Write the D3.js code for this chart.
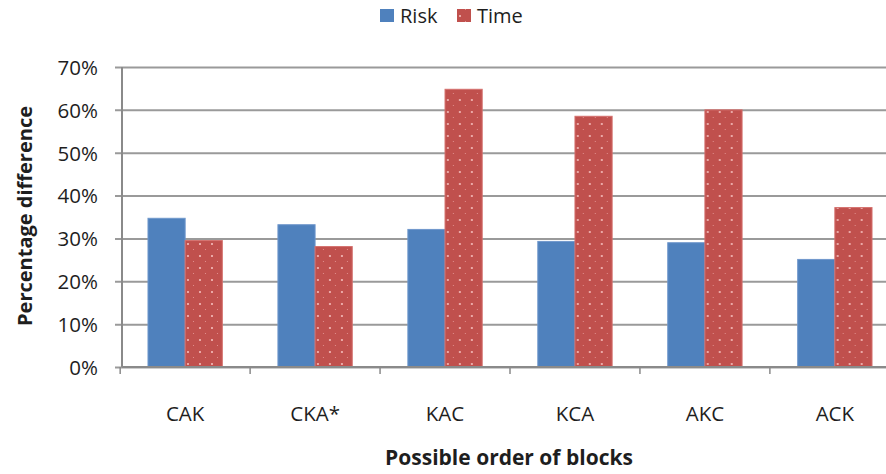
<!DOCTYPE html>
<html><head><meta charset="utf-8">
<script src="https://cdn.jsdelivr.net/npm/d3@7"></script>
<style>body{margin:0;background:#fff}svg{display:block}</style>
</head><body>
<script>
const categories = ["CAK","CKA*","KAC","KCA","AKC","ACK"];
const seriesNames = ["Risk","Time"];
const risk = [0.347,0.332,0.321,0.293,0.290,0.251];
const time = [0.295,0.281,0.648,0.585,0.600,0.372];
const yTicks = [0,0.1,0.2,0.3,0.4,0.5,0.6,0.7];

const W=886,H=474;
const plotL=122, plotR=898, plotT=67, plotB=367;
const svg=d3.select("body").append("svg").attr("width",W).attr("height",H);
const font="'Open Sans', sans-serif";
const txt="#1e1e1e";

const defs=svg.append("defs");
const pat=defs.append("pattern").attr("id","dots").attr("patternUnits","userSpaceOnUse")
  .attr("width",12).attr("height",12);
pat.append("rect").attr("width",12).attr("height",12).attr("fill","#c0504d");
pat.append("rect").attr("x",3).attr("y",3).attr("width",2).attr("height",2).attr("fill","#eaa8a6");
pat.append("rect").attr("x",9).attr("y",9).attr("width",1).attr("height",1).attr("fill","#e08e8c");

const x0=d3.scaleBand().domain(categories).range([plotL,plotR]).paddingInner(0.428).paddingOuter(0.2);
const x1=d3.scaleBand().domain(seriesNames).range([0,x0.bandwidth()]);
const y=d3.scaleLinear().domain([0,0.7]).range([plotB,plotT]);

// gridlines + tick labels
const yAxis=d3.axisLeft(y).tickValues(yTicks).tickFormat(d3.format(".0%")).tickSize(-(plotR-plotL)).tickPadding(24);
const gy=svg.append("g").attr("transform",`translate(${plotL},0)`).call(yAxis);
gy.select(".domain").remove();
gy.selectAll(".tick line").attr("stroke","#9a9a9a").attr("stroke-width",2).attr("x1",-7);
gy.selectAll(".tick text").attr("font-family",font).attr("font-size",20.5).attr("fill",txt).attr("dy","0.36em");

// y axis line
svg.append("line").attr("x1",plotL).attr("x2",plotL).attr("y1",y(0.7)).attr("y2",y(0)).attr("stroke","#8a8a8a").attr("stroke-width",2);

const data=categories.map((c,i)=>({c,vals:[{s:"Risk",v:risk[i]},{s:"Time",v:time[i]}]}));
const g=svg.append("g");
g.selectAll("g").data(data).join("g").attr("transform",d=>`translate(${x0(d.c)},0)`)
 .selectAll("rect").data(d=>d.vals).join("rect")
 .attr("x",d=>x1(d.s)).attr("width",x1.bandwidth())
 .attr("y",d=>y(d.v)).attr("height",d=>y(0)-y(d.v))
 .attr("fill",d=>d.s==="Risk"?"#4f81bd":"url(#dots)")
 .attr("stroke",d=>d.s==="Risk"?"#6f97cc":"#d4706d").attr("stroke-width",1);

// x axis
const xa=svg.append("g");
xa.append("line").attr("x1",plotL).attr("x2",W).attr("y1",y(0)).attr("y2",y(0)).attr("stroke","#8a8a8a").attr("stroke-width",2);
xa.selectAll(".xt").data(categories).join("line").attr("class","xt")
  .attr("x1",d=>x0(d)-(x0.step()-x0.bandwidth())/2).attr("x2",d=>x0(d)-(x0.step()-x0.bandwidth())/2)
  .attr("y1",y(0)).attr("y2",y(0)+7).attr("stroke","#8a8a8a").attr("stroke-width",1.5);
xa.selectAll(".xl").data(categories).join("text").attr("class","xl")
  .attr("x",d=>x0(d)+x0.bandwidth()/2).attr("y",421).attr("text-anchor","middle")
  .attr("font-family",font).attr("font-size",20.5).attr("fill",txt).text(d=>d);

// axis titles
svg.append("text").attr("x",509).attr("y",465).attr("text-anchor","middle")
  .attr("font-family",font).attr("font-weight","bold").attr("font-size",21).attr("fill",txt).text("Possible order of blocks");
svg.append("text").attr("transform",`translate(32,216) rotate(-90)`).attr("text-anchor","middle")
  .attr("font-family",font).attr("font-weight","bold").attr("font-size",20).attr("fill",txt).text("Percentage difference");

// legend
const leg=svg.append("g");
const items=[{s:"Risk",x:380,fill:"#4f81bd"},{s:"Time",x:457,fill:"url(#dots)"}];
items.forEach(it=>{
  leg.append("rect").attr("x",it.x).attr("y",9).attr("width",14).attr("height",13).attr("fill",it.fill);
  leg.append("text").attr("x",it.x+20).attr("y",23).attr("font-family",font).attr("font-size",20).attr("fill",txt).text(it.s);
});
</script>
</body></html>
